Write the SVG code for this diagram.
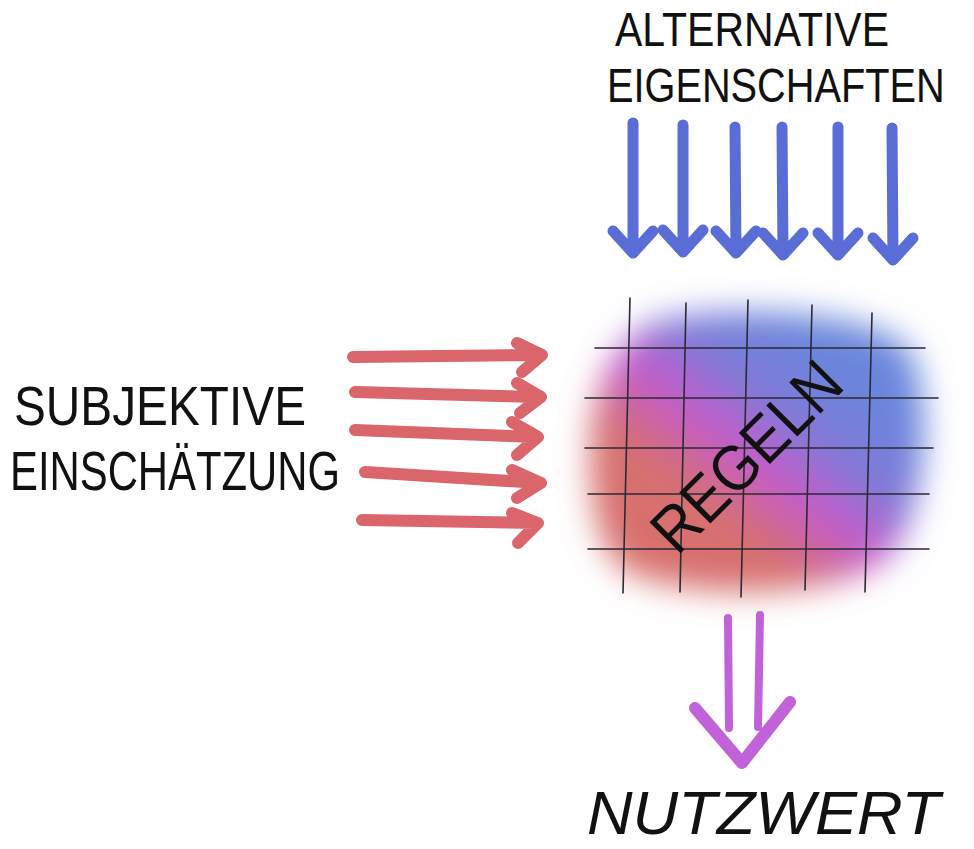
<svg xmlns="http://www.w3.org/2000/svg" width="974" height="849" viewBox="0 0 974 849">
<style>
.lbl{font-family:"Liberation Sans","DejaVu Sans",sans-serif;fill:#111;}
.blue{stroke:#5a6dd6;stroke-width:11;fill:none;stroke-linecap:round;stroke-linejoin:round;}
.red{stroke:#da656b;stroke-width:12;fill:none;stroke-linecap:round;stroke-linejoin:round;}
.pur{stroke:#c262d9;fill:none;stroke-linecap:round;stroke-linejoin:round;}
.grid{stroke:#2a2a33;stroke-width:1.6;fill:none;stroke-linecap:round;}
</style>
<defs>
<linearGradient id="blobGrad" gradientUnits="userSpaceOnUse" x1="640" y1="570" x2="815" y2="345">
<stop offset="0" stop-color="#d9706c"/>
<stop offset="0.32" stop-color="#d6706f"/>
<stop offset="0.55" stop-color="#c45ccc"/>
<stop offset="0.75" stop-color="#7f7ad8"/>
<stop offset="1" stop-color="#6a86dc"/>
</linearGradient>
<filter id="blur" x="-30%" y="-30%" width="160%" height="160%">
<feGaussianBlur stdDeviation="16"/>
</filter>
</defs>
<rect width="974" height="849" fill="#ffffff"/>

<g id="regeln">
<path d="M655 322 C710 305 860 308 905 345 C935 380 930 520 885 560 C835 600 680 600 625 570 C585 545 585 430 598 395 C610 355 628 334 655 322 Z" fill="url(#blobGrad)" filter="url(#blur)"/>
<g class="grid">
<line x1="630" y1="298" x2="623" y2="593"/>
<line x1="686" y1="303" x2="680" y2="592"/>
<line x1="748" y1="300" x2="741" y2="597"/>
<line x1="812" y1="305" x2="805" y2="590"/>
<line x1="872" y1="313" x2="865" y2="592"/>
<line x1="595" y1="348" x2="925" y2="348"/>
<line x1="585" y1="398" x2="938" y2="398"/>
<line x1="585" y1="448" x2="933" y2="448"/>
<line x1="588" y1="494" x2="929" y2="494"/>
<line x1="588" y1="549" x2="929" y2="549"/>
</g>
<text class="lbl" x="0" y="0" font-size="64" text-anchor="middle" textLength="240" lengthAdjust="spacingAndGlyphs" transform="translate(762 472) rotate(-45)">REGELN</text>
</g>

<g id="alternative">
<text class="lbl" x="0" y="0" font-size="48" transform="translate(615 46) scale(0.854 1)">ALTERNATIVE</text>
<text class="lbl" x="0" y="0" font-size="48" transform="translate(607 102) scale(0.828 1)">EIGENSCHAFTEN</text>
</g>

<g id="subjektive">
<text class="lbl" x="14" y="425" font-size="56" textLength="292" lengthAdjust="spacingAndGlyphs">SUBJEKTIVE</text>
<text class="lbl" x="10" y="490" font-size="56" textLength="330" lengthAdjust="spacingAndGlyphs">EINSCHÄTZUNG</text>
</g>

<g id="nutzwert">
<text class="lbl" x="587" y="834" font-size="62" font-style="italic" textLength="353" lengthAdjust="spacingAndGlyphs">NUTZWERT</text>
</g>

<g id="connectors">
<g class="blue">
<path d="M633 123 L633 253 M613 231 L633 253 L653 231"/>
<path d="M683 125 L683 252 M663 230 L683 252 L703 230"/>
<path d="M735 127 L736 253 M716 231 L736 253 L756 231"/>
<path d="M782 127 L783 255 M763 233 L783 255 L803 233"/>
<path d="M838 127 L838 255 M818 233 L838 255 L858 233"/>
<path d="M892 128 L893 260 M873 238 L893 260 L913 238"/>
</g>
<g class="red">
<path d="M353 357 L540 355 M517 343 L542 355 L522 372"/>
<path d="M355 392 L540 397 M517 383 L541 397 L520 413"/>
<path d="M355 430 L537 437 M512 422 L538 437 L517 455"/>
<path d="M365 472 L540 483 M512 470 L541 483 L517 498"/>
<path d="M362 520 L537 523 M512 513 L538 523 L518 543"/>
</g>
<g class="pur">
<path d="M728 618 L729 728 M760 615 L758 727" stroke-width="8"/>
<path d="M695 708 L742 763 L790 702" stroke-width="12"/>
</g>
</g>
</svg>
